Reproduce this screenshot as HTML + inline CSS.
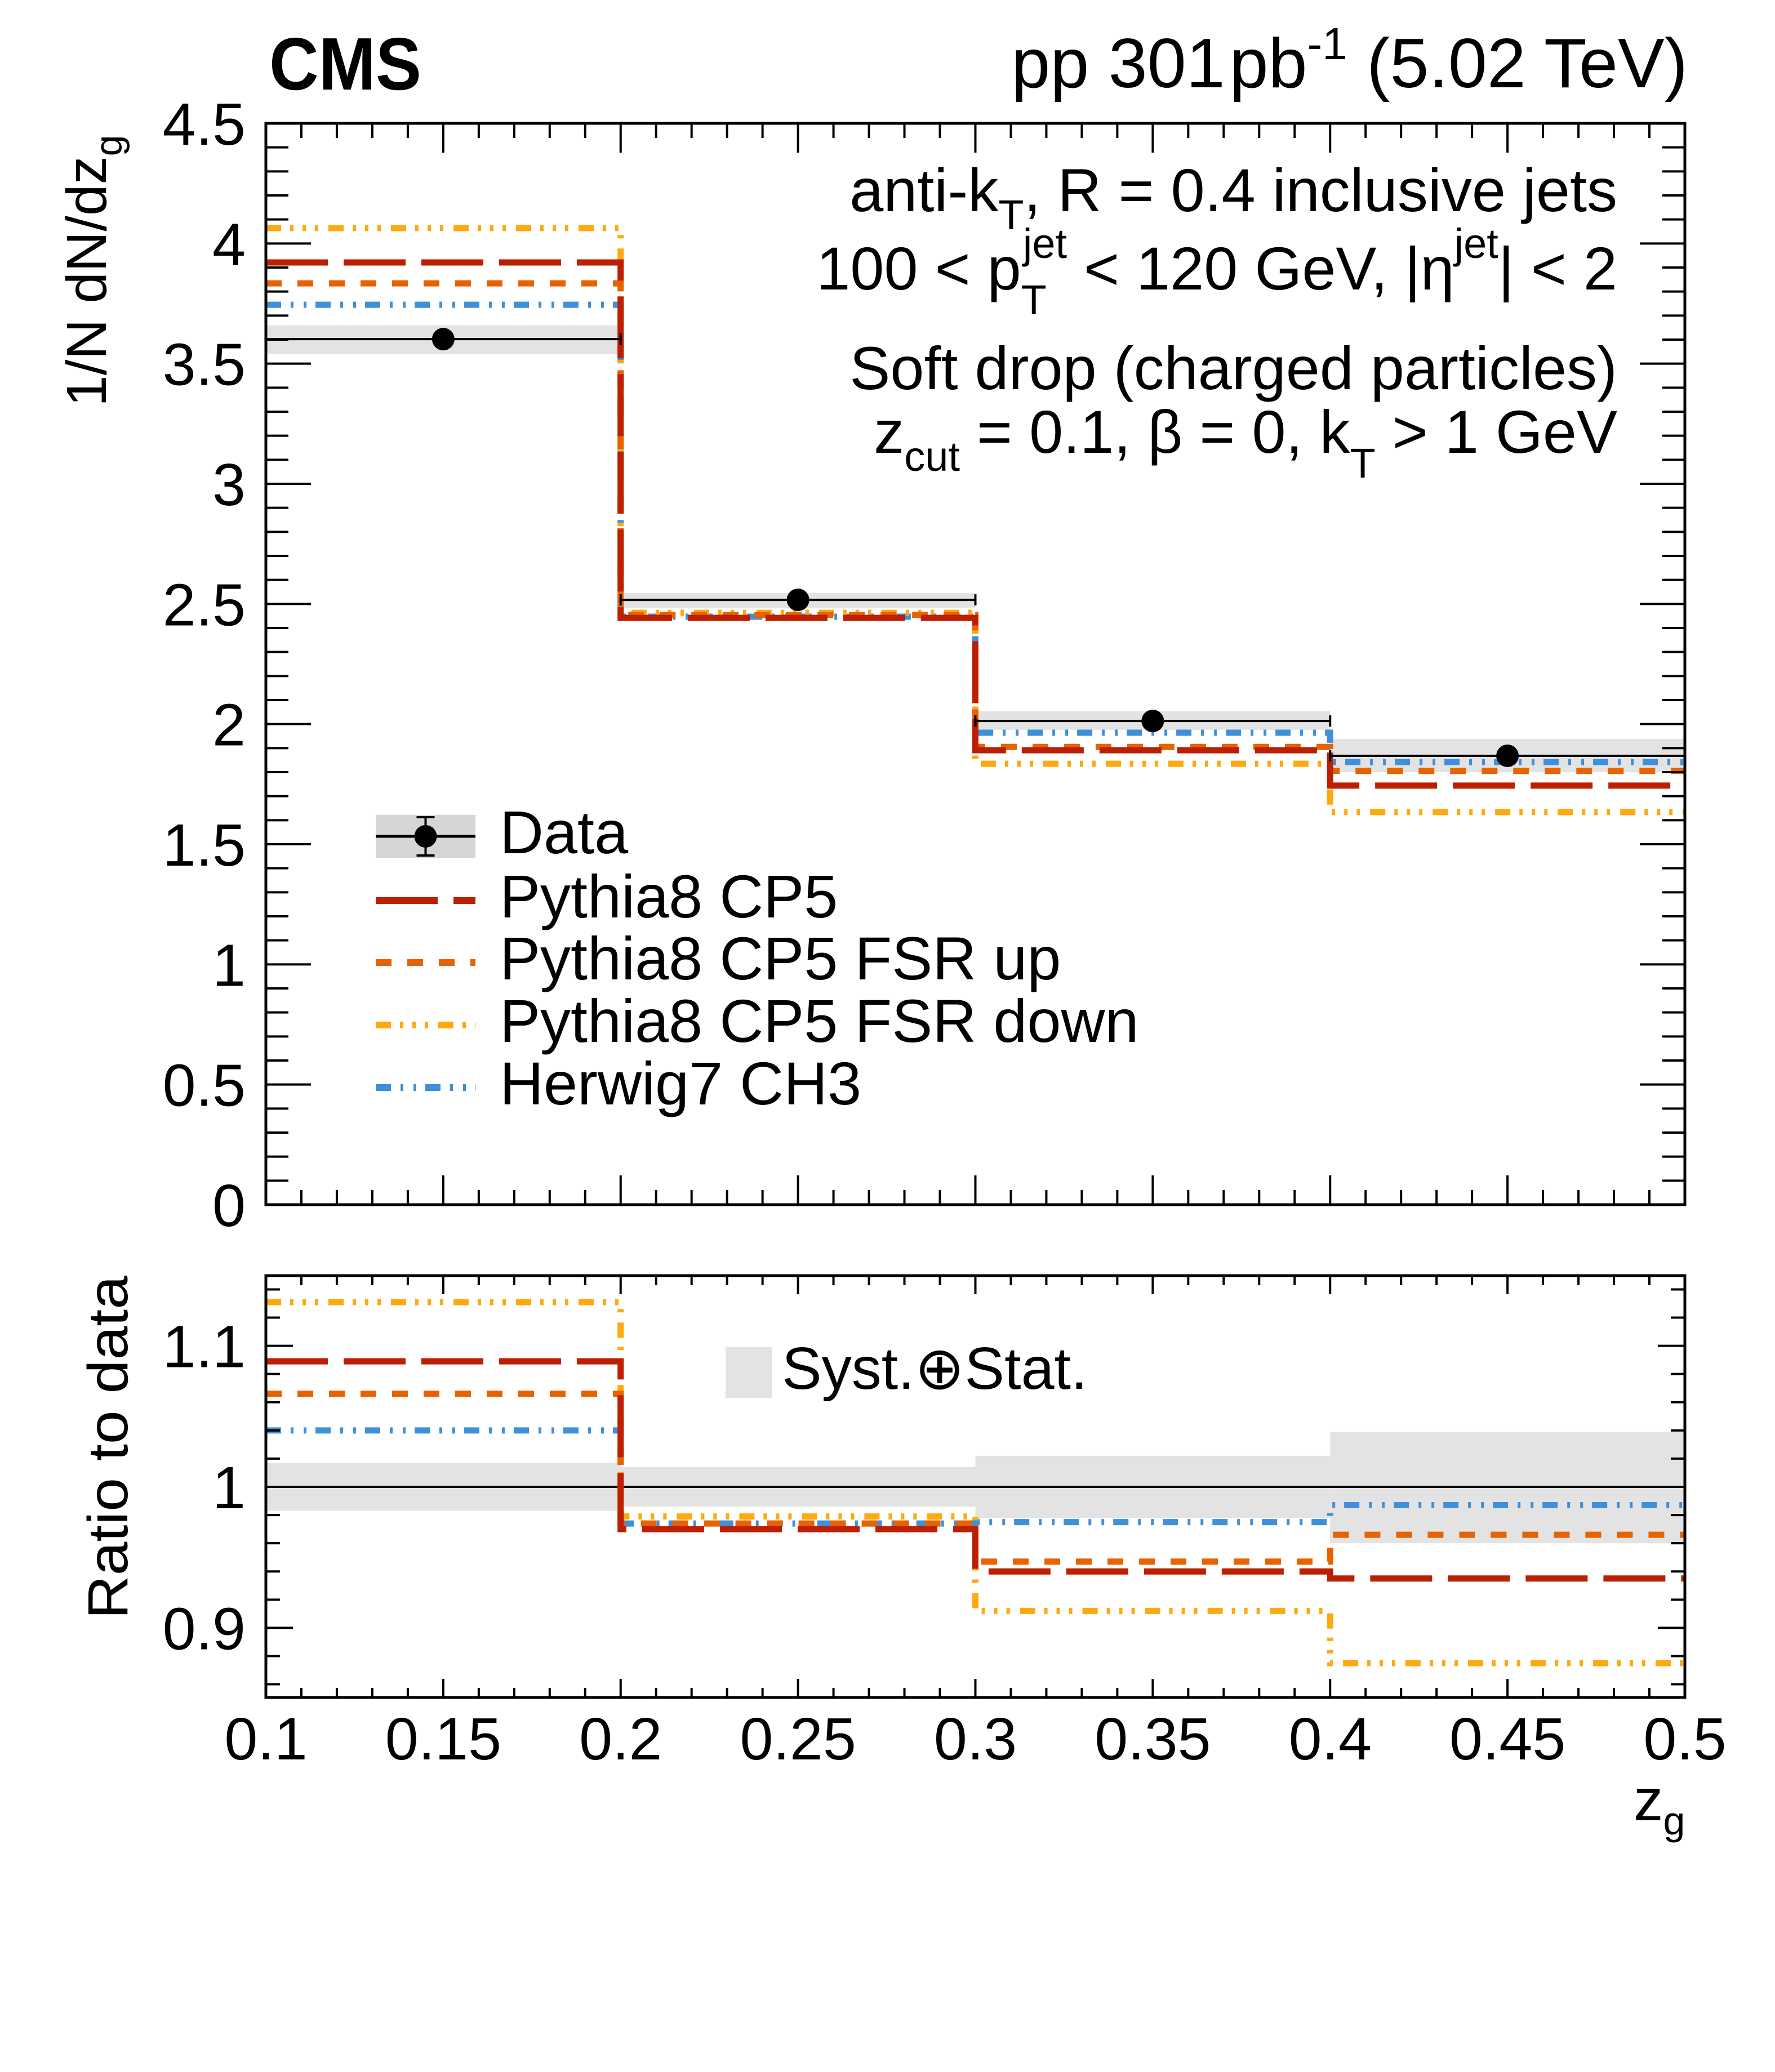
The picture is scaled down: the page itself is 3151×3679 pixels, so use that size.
<!DOCTYPE html>
<html><head><meta charset="utf-8"><style>
html,body{margin:0;padding:0;background:#fff;}
svg{display:block;font-family:"Liberation Sans",sans-serif;}
</style></head>
<body>
<svg id="chart" width="3151" height="3679" viewBox="0 0 3151 3679" xmlns="http://www.w3.org/2000/svg">
<rect width="3151" height="3679" fill="#fff"/>
<g id="main"></g>
<g id="ratio"></g>
<g id="texts">
<text x="478" y="159" font-size="132" font-weight="bold" textLength="270" lengthAdjust="spacingAndGlyphs">CMS</text>
<text x="2996" y="155" font-size="124" text-anchor="end">pp 301<tspan dx="8">pb</tspan><tspan font-size="80" dy="-50">-1</tspan><tspan dy="50"> (5.02 TeV)</tspan></text>
<text x="2871" y="375" font-size="108" text-anchor="end">anti-k<tspan font-size="74" dy="32">T</tspan><tspan dy="-32">, R = 0.4 inclusive jets</tspan></text>
<text x="2871" y="514" font-size="108" text-anchor="end">100 &lt; p<tspan font-size="74" dy="44">T</tspan><tspan font-size="74" dx="-42" dy="-100">jet</tspan><tspan dy="56"> &lt; 120 GeV, |η</tspan><tspan font-size="74" dy="-56">jet</tspan><tspan dy="56">| &lt; 2</tspan></text>
<text x="2871" y="691" font-size="108" text-anchor="end">Soft drop (charged particles)</text>
<text x="2871" y="804" font-size="108" text-anchor="end">z<tspan font-size="74" dy="32">cut</tspan><tspan dy="-32"> = 0.1, β = 0, k</tspan><tspan font-size="74" dy="44">T</tspan><tspan dy="-44"> &gt; 1 GeV</tspan></text>
<text transform="translate(188,722) rotate(-90)" font-size="100">1/N dN/dz<tspan font-size="68" dy="28">g</tspan></text>
<text transform="translate(226,2875) rotate(-90)" font-size="100" textLength="610" lengthAdjust="spacingAndGlyphs">Ratio to data</text>
<text x="2900" y="3232" font-size="105">z<tspan font-size="70" dy="25">g</tspan></text>
</g>
<g id="legend"></g>
</svg>
<script>
const binEdges = [0.1, 0.2, 0.3, 0.4, 0.5];
const dataVals = [3.602, 2.517, 2.013, 1.868];
const dataBandLo = [3.54, 2.484, 1.976, 1.80];
const dataBandHi = [3.66, 2.545, 2.053, 1.938];
const cp5Vals = [3.921, 2.442, 1.891, 1.744];
const fsrUpVals = [3.834, 2.454, 1.905, 1.805];
const fsrDownVals = [4.064, 2.463, 1.835, 1.634];
const herwigVals = [3.745, 2.447, 1.964, 1.842];
const ratioBandLo = [0.983, 0.986, 0.978, 0.960];
const ratioBandHi = [1.017, 1.014, 1.022, 1.039];
const cp5Ratio = [1.089, 0.970, 0.940, 0.935];
const fsrUpRatio = [1.066, 0.974, 0.947, 0.966];
const fsrDownRatio = [1.131, 0.979, 0.912, 0.875];
const herwigRatio = [1.040, 0.974, 0.975, 0.987];
const xTickLabels = ["0.1","0.15","0.2","0.25","0.3","0.35","0.4","0.45","0.5"];
const mainYTickLabels = ["0","0.5","1","1.5","2","2.5","3","3.5","4","4.5"];
const ratioYTickLabels = ["0.9","1","1.1"];

const NS = "http://www.w3.org/2000/svg";
const X0 = 472, X1 = 2991;
const M_TOP = 219, M_BOT = 2139, R_TOP = 2265, R_BOT = 3014;
const xs = v => X0 + (v - 0.1) / 0.4 * (X1 - X0);
const ym = v => M_BOT - v / 4.5 * (M_BOT - M_TOP);
const yr = v => 2640 - (v - 1) * 2504;

function mk(tag, attrs, parent) {
  const e = document.createElementNS(NS, tag);
  for (const k in attrs) e.setAttribute(k, attrs[k]);
  parent.appendChild(e);
  return e;
}
const styles = {
  cp5: {c: "#bd1f01", d: "110 28"},
  up: {c: "#e76300", d: "28 28"},
  down: {c: "#ffa90e", d: "27 16 6 16 6 16 6 18"},
  herwig: {c: "#3f90da", d: "27 17 5 18 5 16"}
};
function stepPath(vals, yf) {
  let d = "";
  for (let i = 0; i < vals.length; i++) {
    const x0 = xs(binEdges[i]), x1 = xs(binEdges[i + 1]), y = yf(vals[i]);
    d += (i === 0 ? "M" : "L") + x0 + " " + y + " L" + x1 + " " + y + " ";
  }
  return d;
}
function drawFrame(g, top, bot, yf, yMin, yMax, minorStep, majorStep, labels, majLen, minLen, xMaj, xMin) {
  for (let i = 0; i <= 40; i++) {
    const v = 0.1 + i * 0.01, x = xs(v);
    const major = i % 5 === 0;
    const L = major ? xMaj : xMin;
    const t1 = mk("line", {x1: x, x2: x, y1: bot, y2: bot - L, stroke: "#000", "stroke-width": 4}, g);
    
    
    const t2 = mk("line", {x1: x, x2: x, y1: top, y2: top + L, stroke: "#000", "stroke-width": 4}, g);
    
    
  }
  const n = Math.round((yMax - yMin) / minorStep);
  for (let i = 0; i <= n; i++) {
    const v = yMin + i * minorStep, y = yf(v);
    if (y < top - 1 || y > bot + 1) continue;
    const major = Math.abs(v / majorStep - Math.round(v / majorStep)) < 1e-6;
    const L = major ? majLen : minLen;
    const a = mk("line", {x1: X0, x2: X0 + L, y1: y, y2: y, stroke: "#000", "stroke-width": 4}, g);
    
    
    const b = mk("line", {x1: X1, x2: X1 - L, y1: y, y2: y, stroke: "#000", "stroke-width": 4}, g);
    
    
  }
  labels.forEach(s => {
    const t = mk("text", {x: 436, y: yf(parseFloat(s)) + 38, "font-size": 106, "text-anchor": "end"}, g);
    
    
    t.textContent = s;
  });
}
function drawModels(g, sets, yf) {
  sets.forEach(([vals, key, name]) => {
    const p = mk("path", {d: stepPath(vals, yf), fill: "none", stroke: styles[key].c, "stroke-width": 11, "stroke-dasharray": styles[key].d}, g);
    
    
  });
}

const gm = document.getElementById("main");
for (let i = 0; i < dataVals.length; i++) {
  const r = mk("rect", {x: xs(binEdges[i]), y: ym(dataBandHi[i]), width: xs(binEdges[i+1]) - xs(binEdges[i]), height: ym(dataBandLo[i]) - ym(dataBandHi[i]), fill: "#e3e3e3"}, gm);
  
  
}
drawModels(gm, [[herwigVals, "herwig", "herwig-line"], [fsrDownVals, "down", "fsr-down-line"], [fsrUpVals, "up", "fsr-up-line"], [cp5Vals, "cp5", "cp5-line"]], ym);
for (let i = 0; i < dataVals.length; i++) {
  const y = ym(dataVals[i]), x0 = xs(binEdges[i]), x1 = xs(binEdges[i+1]), xc = (x0 + x1) / 2;
  const l = mk("line", {x1: x0, x2: x1, y1: y, y2: y, stroke: "#000", "stroke-width": 4}, gm);
  
  
  [x0, x1].forEach(xx => {
    const c = mk("line", {x1: xx, x2: xx, y1: y - 10, y2: y + 10, stroke: "#000", "stroke-width": 4}, gm);
    
    
  });
  const pt = mk("circle", {cx: xc, cy: y, r: 20, fill: "#000"}, gm);
  
  
}
drawFrame(gm, M_TOP, M_BOT, ym, 0, 4.5, 0.1, 0.5, mainYTickLabels, 80, 40, 52, 26);
const fm = mk("rect", {x: X0, y: M_TOP, width: X1 - X0, height: M_BOT - M_TOP, fill: "none", stroke: "#000", "stroke-width": 5}, gm);



const gr = document.getElementById("ratio");
for (let i = 0; i < ratioBandLo.length; i++) {
  const r = mk("rect", {x: xs(binEdges[i]), y: yr(ratioBandHi[i]), width: xs(binEdges[i+1]) - xs(binEdges[i]), height: yr(ratioBandLo[i]) - yr(ratioBandHi[i]), fill: "#e3e3e3"}, gr);
  
  
}
const one = mk("line", {x1: X0, x2: X1, y1: yr(1), y2: yr(1), stroke: "#000", "stroke-width": 4}, gr);


drawModels(gr, [[herwigRatio, "herwig", "herwig-ratio"], [fsrDownRatio, "down", "fsr-down-ratio"], [fsrUpRatio, "up", "fsr-up-ratio"], [cp5Ratio, "cp5", "cp5-ratio"]], yr);
drawFrame(gr, R_TOP, R_BOT, yr, 0.86, 1.14, 0.02, 0.1, ratioYTickLabels, 48, 25, 33, 17);
const fr = mk("rect", {x: X0, y: R_TOP, width: X1 - X0, height: R_BOT - R_TOP, fill: "none", stroke: "#000", "stroke-width": 5}, gr);


xTickLabels.forEach(s => {
  const t = mk("text", {x: xs(parseFloat(s)), y: 3124, "font-size": 106, "text-anchor": "middle"}, gr);
  
  
  t.textContent = s;
});
const sb = mk("rect", {x: 1288, y: 2392, width: 83, height: 90, fill: "#e3e3e3"}, gr);


const st = mk("text", {x: 1388, y: 2466, "font-size": 106}, gr);


st.textContent = "Syst.⊕Stat.";

const gl = document.getElementById("legend");
const lx0 = 667, lx1 = 844;
const legendRows = [
  ["Data", null, 1485, "legend-data"],
  ["Pythia8 CP5", "cp5", 1599, "legend-cp5"],
  ["Pythia8 CP5 FSR up", "up", 1709, "legend-fsr-up"],
  ["Pythia8 CP5 FSR down", "down", 1820, "legend-fsr-down"],
  ["Herwig7 CH3", "herwig", 1931, "legend-herwig"]
];
legendRows.forEach(([label, key, y, nm]) => {
  const g = mk("g", {}, gl);
  
  
  if (key) {
    mk("line", {x1: lx0, x2: lx1, y1: y, y2: y, stroke: styles[key].c, "stroke-width": 12, "stroke-dasharray": styles[key].d}, g);
  } else {
    mk("rect", {x: lx0, y: y - 38, width: lx1 - lx0, height: 76, fill: "#d6d6d6"}, g);
    mk("line", {x1: lx0, x2: lx1, y1: y, y2: y, stroke: "#000", "stroke-width": 5}, g);
    mk("line", {x1: (lx0+lx1)/2, x2: (lx0+lx1)/2, y1: y - 34, y2: y + 34, stroke: "#000", "stroke-width": 4}, g);
    mk("line", {x1: (lx0+lx1)/2 - 16, x2: (lx0+lx1)/2 + 16, y1: y - 34, y2: y - 34, stroke: "#000", "stroke-width": 4}, g);
    mk("line", {x1: (lx0+lx1)/2 - 16, x2: (lx0+lx1)/2 + 16, y1: y + 34, y2: y + 34, stroke: "#000", "stroke-width": 4}, g);
    mk("circle", {cx: (lx0+lx1)/2, cy: y, r: 20, fill: "#000"}, g);
  }
  const t = mk("text", {x: 887, y: y + 30, "font-size": 108}, g);
  t.textContent = label;
});
</script>
</body></html>
